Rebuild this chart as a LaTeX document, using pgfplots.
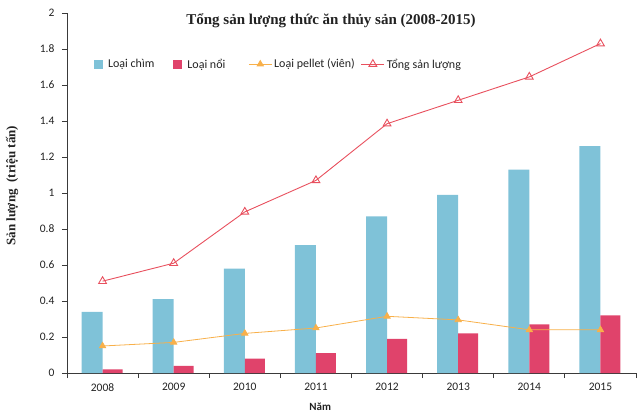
\documentclass[border=0pt]{standalone}
\usepackage{pgfplots}
\pgfplotsset{compat=1.18}
\usepackage{fontspec}
\setmainfont{Carlito}
\newfontfamily\titlefont{Liberation Serif}
\definecolor{cblue}{HTML}{7FC2D8}
\definecolor{cred}{HTML}{E0436B}
\definecolor{corange}{HTML}{F8B04A}
\definecolor{ctotal}{HTML}{E8505E}
\definecolor{axgray}{HTML}{3A3A3A}
\definecolor{txt}{HTML}{222222}
\pgfplotsset{
  lineleg/.style={legend image code/.code={\draw[mark repeat=2,mark phase=2,##1] plot coordinates {(0pt,0pt)(11.5pt,0pt)(23pt,0pt)};}},
  blueleg/.style={legend image code/.code={\fill[cblue] (0pt,-4.5pt) rectangle (9pt,4.5pt); \path (12pt,0pt);}},
  redleg/.style={legend image code/.code={\fill[cred] (0pt,-4.5pt) rectangle (9pt,4.5pt); \path (12pt,0pt);}},
}
\begin{document}
\begin{tikzpicture}
\useasboundingbox (-67pt,-45pt) rectangle (573pt,373pt);
\begin{axis}[
  at={(0,0)}, anchor=south west,
  scale only axis, width=569pt, height=360pt,
  xmin=-0.5, xmax=7.5, ymin=0, ymax=2,
  clip=false,
  axis x line*=bottom, axis y line*=left,
  axis line style={axgray, line width=0.9pt},
  xtick={0,1,2,3,4,5,6,7},
  xticklabels={2008,2009,2010,2011,2012,2013,2014,2015},
  major x tick style={draw=none},
  minor xtick={-0.5,0.5,1.5,2.5,3.5,4.5,5.5,6.5,7.5},
  ytick={0,0.2,0.4,0.6,0.8,1,1.2,1.4,1.6,1.8,2},
  tick align=outside,
  tick style={axgray, line width=0.9pt},
  major tick length=5pt, minor tick length=5pt,
  /pgf/number format/assume math mode=true,
  ticklabel style={font=\fontsize{11.5}{13}\selectfont, text=txt},
  xticklabel style={yshift=-2pt},
  yticklabel style={xshift=-4pt},
  legend columns=4,
  legend style={at={(rel axis cs:0.042,0.858)}, anchor=west, draw=none, fill=none,
    font=\fontsize{12}{14}\selectfont, text=txt,
    /tikz/every even column/.append style={column sep=0pt}},
]
\addplot[ybar, bar width=21pt, bar shift=-10.5pt, fill=cblue, draw=none, blueleg]
  coordinates {(0,0.34)(1,0.41)(2,0.58)(3,0.71)(4,0.87)(5,0.99)(6,1.13)(7,1.26)};
\addlegendentry{Loại chìm\rule{17pt}{0pt}}
\addplot[ybar, bar width=20pt, bar shift=10pt, fill=cred, draw=none, redleg]
  coordinates {(0,0.02)(1,0.04)(2,0.08)(3,0.11)(4,0.19)(5,0.22)(6,0.27)(7,0.32)};
\addlegendentry{Loại nổi\rule{21pt}{0pt}}
\addplot[corange, line width=0.8pt, mark=triangle*, mark size=3.6pt,
  mark options={fill=corange, draw=corange}, lineleg]
  coordinates {(0,0.15)(1,0.17)(2,0.22)(3,0.25)(4,0.315)(5,0.295)(6,0.24)(7,0.24)};
\addlegendentry{Loại pellet (viên)\rule{4pt}{0pt}}
\addplot[ctotal, line width=0.9pt, mark=triangle, mark size=4.5pt,
  mark options={fill=white, draw=ctotal, solid}, lineleg]
  coordinates {(0,0.51)(1,0.61)(2,0.895)(3,1.07)(4,1.385)(5,1.515)(6,1.645)(7,1.83)};
\addlegendentry{Tổng sản lượng}
\node[font=\titlefont\bfseries\fontsize{15}{17}\selectfont, text=txt] at (rel axis cs:0.464,0.978) {Tổng sản lượng thức ăn thủy sản (2008-2015)};
\node[rotate=90, anchor=center, font=\titlefont\bfseries\fontsize{13}{15}\selectfont, text=txt] at ([xshift=-55pt]rel axis cs:0,0.52) {Sản lượng\ \ (triệu tấn)};
\node[anchor=center, font=\bfseries\fontsize{11}{13}\selectfont, text=txt] at ([yshift=-34pt]rel axis cs:0.445,0) {Năm};
\end{axis}
\end{tikzpicture}
\end{document}
